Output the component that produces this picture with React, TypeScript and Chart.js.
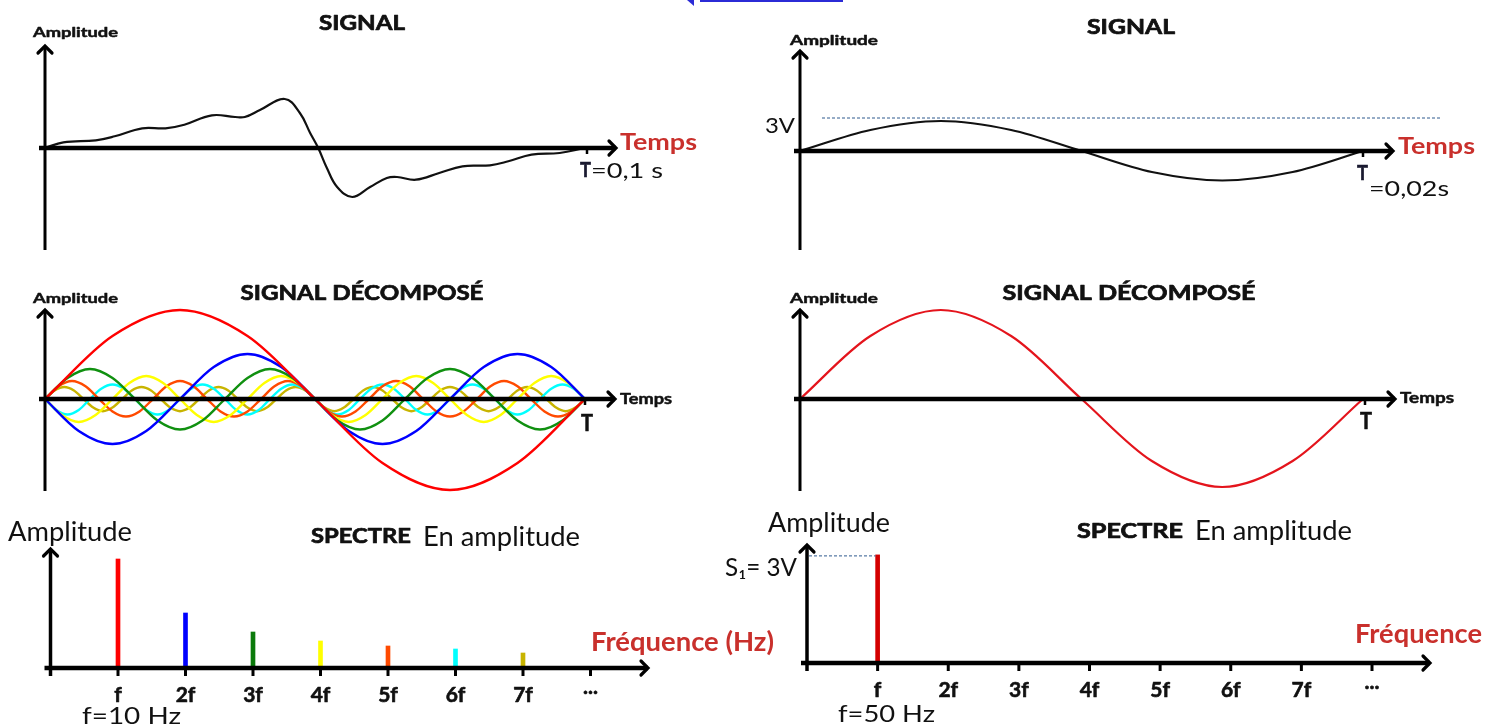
import React, { useEffect, useRef } from "react";
import { Chart, registerables } from "chart.js";

Chart.register(...registerables);

const W = 1496;
const H = 726;

// ---------- DATA ----------
// Left signal (T = 0,1 s): time in ms, amplitude (arbitrary units)
const sigLeftTime = [0, 3.4, 9.4, 12.9, 18.0, 22.3, 25.8, 30.9, 35.2, 37.0, 39.8, 44.4, 47.2, 49.1, 50.6, 52.2, 54.1, 56.9, 60.2, 63.3, 65.2, 68.7, 73.0, 77.3, 82.4, 85.8, 90.1, 95.3, 100];
const sigLeftAmp = [0, 0.57, 0.77, 1.17, 1.97, 1.97, 2.33, 3.27, 3.1, 3.1, 3.8, 4.9, 3.5, 1.5, 0, -2.0, -3.9, -4.9, -3.9, -3.0, -2.9, -3.17, -2.5, -1.83, -1.73, -1.33, -0.67, -0.5, 0];

// Right signal (T = 0,02 s): time in ms, amplitude in V (read every T/8)
const sigRightTime = [0, 2.5, 5, 7.5, 10, 12.5, 15, 17.5, 20];
const sigRightAmp = [0, 2.1, 3, 2.1, 0, -2.1, -2.95, -2.1, 0];

// Decomposed harmonics (left), values read every 1/8 of each harmonic's period over one T
const harmRed = [0, 6.3, 8.9, 6.3, 0, -6.4, -9.1, -6.4, 0];
const harmBlue = [0, -3.2, -4.5, -3.2, 0, 3.2, 4.5, 3.2, 0, -3.2, -4.5, -3.2, 0, 3.2, 4.5, 3.2, 0];
const harmGreen = [
  0, 2.1, 3.0, 2.1, 0, -2.15, -3.05, -2.15,
  0, 2.1, 3.0, 2.1, 0, -2.15, -3.05, -2.15,
  0, 2.1, 3.0, 2.1, 0, -2.15, -3.05, -2.15, 0,
];
const harmYellow = [
  0, -1.6, -2.3, -1.6, 0, 1.6, 2.3, 1.6,
  0, -1.6, -2.3, -1.6, 0, 1.6, 2.3, 1.6,
  0, -1.6, -2.3, -1.6, 0, 1.6, 2.3, 1.6,
  0, -1.6, -2.3, -1.6, 0, 1.6, 2.3, 1.6, 0,
];
const harmOrange = [
  0, 1.27, 1.8, 1.27, 0, -1.24, -1.75, -1.24,
  0, 1.27, 1.8, 1.27, 0, -1.24, -1.75, -1.24,
  0, 1.27, 1.8, 1.27, 0, -1.24, -1.75, -1.24,
  0, 1.27, 1.8, 1.27, 0, -1.24, -1.75, -1.24,
  0, 1.27, 1.8, 1.27, 0, -1.24, -1.75, -1.24, 0,
];
const harmCyan = [
  0, -1.1, -1.55, -1.1, 0, 1.03, 1.45, 1.03,
  0, -1.1, -1.55, -1.1, 0, 1.03, 1.45, 1.03,
  0, -1.1, -1.55, -1.1, 0, 1.03, 1.45, 1.03,
  0, -1.1, -1.55, -1.1, 0, 1.03, 1.45, 1.03,
  0, -1.1, -1.55, -1.1, 0, 1.03, 1.45, 1.03,
  0, -1.1, -1.55, -1.1, 0, 1.03, 1.45, 1.03, 0,
];
const harmOlive = [
  0, 0.85, 1.2, 0.85, 0, -0.86, -1.22, -0.86,
  0, 0.85, 1.2, 0.85, 0, -0.86, -1.22, -0.86,
  0, 0.85, 1.2, 0.85, 0, -0.86, -1.22, -0.86,
  0, 0.85, 1.2, 0.85, 0, -0.86, -1.22, -0.86,
  0, 0.85, 1.2, 0.85, 0, -0.86, -1.22, -0.86,
  0, 0.85, 1.2, 0.85, 0, -0.86, -1.22, -0.86,
  0, 0.85, 1.2, 0.85, 0, -0.86, -1.22, -0.86, 0,
];
const harmColors = ["#ff0000", "#0000ff", "#109010", "#ffff00", "#ff4a00", "#00ffff", "#c8b400"];

// Decomposed (right): fundamental only, read every T/8
const harmRightRed = [0, 6.3, 8.9, 6.3, 0, -6.2, -8.8, -6.2, 0];

// Spectra
const specTickLabels = ["f", "2f", "3f", "4f", "5f", "6f", "7f", "..."];
const specLeftHarm = [1, 2, 3, 4, 5, 6, 7];
const specLeftAmp = [10.9, 5.5, 3.6, 2.7, 2.2, 1.9, 1.5];
const specLeftColors = ["#ff0000", "#0000ff", "#0b7a0b", "#ffff00", "#ff4a00", "#00ffff", "#c8b400"];
const specRightHarm = [1];
const specRightAmp = [3]; // S1 = 3 V
const specRightColors = ["#d40000"];

// ---------- helpers ----------
const HEAD = "bold";
const F = "Lato";
const RED = "#c9302c";

function txt(ctx: CanvasRenderingContext2D, s: string, x: number, y: number, font: string, color: string, w?: number, align: "left" | "center" = "left", thick = 0) {
  ctx.save();
  ctx.font = font;
  ctx.fillStyle = color;
  ctx.textBaseline = "alphabetic";
  ctx.textAlign = "left";
  const m = ctx.measureText(s).width;
  const sx = w ? w / m : 1;
  ctx.translate(x, y);
  ctx.scale(sx, 1);
  const x0 = align === "center" ? -m / 2 : 0;
  ctx.fillText(s, x0, 0);
  if (thick > 0) {
    ctx.strokeStyle = color;
    ctx.lineWidth = thick;
    ctx.lineJoin = "round";
    ctx.strokeText(s, x0, 0);
  }
  ctx.restore();
}

function line(ctx: CanvasRenderingContext2D, x1: number, y1: number, x2: number, y2: number, lw: number, color = "#000", dash: number[] = []) {
  ctx.save();
  ctx.beginPath();
  ctx.setLineDash(dash);
  ctx.moveTo(x1, y1);
  ctx.lineTo(x2, y2);
  ctx.lineWidth = lw;
  ctx.strokeStyle = color;
  ctx.lineCap = "butt";
  ctx.stroke();
  ctx.restore();
}

function arrow(ctx: CanvasRenderingContext2D, x: number, y: number, dir: "right" | "up", size = 7, lw = 3.2) {
  ctx.save();
  ctx.beginPath();
  if (dir === "right") {
    ctx.moveTo(x - size, y - size);
    ctx.lineTo(x, y);
    ctx.lineTo(x - size, y + size);
  } else {
    ctx.moveTo(x - size, y + size);
    ctx.lineTo(x, y);
    ctx.lineTo(x + size, y + size);
  }
  ctx.lineWidth = lw;
  ctx.strokeStyle = "#000";
  ctx.lineCap = "round";
  ctx.lineJoin = "miter";
  ctx.stroke();
  ctx.restore();
}

type Decor = (chart: any, ctx: CanvasRenderingContext2D) => void;

function baseOptions(pad: { left: number; right: number; top: number; bottom: number }, xmin: number, xmax: number, ymin: number, ymax: number, decor: Decor) {
  return {
    options: {
      responsive: false,
      animation: false,
      events: [],
      layout: { padding: { left: pad.left, right: W - pad.right, top: pad.top, bottom: H - pad.bottom } },
      plugins: { legend: { display: false }, tooltip: { enabled: false }, title: { display: false } },
      scales: {
        x: { type: "linear", display: false, min: xmin, max: xmax, offset: false, grid: { offset: false } },
        y: { type: "linear", display: false, min: ymin, max: ymax },
      },
    },
    plugins: [
      {
        id: "decor",
        afterDatasetsDraw(chart: any) {
          decor(chart, chart.ctx);
        },
      },
    ],
  };
}

function lineDs(xs: number[], ys: number[], color: string, width: number, smooth: "monotone" | number) {
  return {
    type: "line",
    data: ys.map((y, i) => ({ x: xs[i], y })),
    borderColor: color,
    borderWidth: width,
    pointRadius: 0,
    tension: smooth === "monotone" ? 0.4 : smooth,
    cubicInterpolationMode: smooth === "monotone" ? "monotone" : "default",
    fill: false,
    clip: false,
  };
}

function evenTimes(n: number, T: number) {
  return Array.from({ length: n }, (_, i) => (i * T) / (n - 1));
}

// ---------- chart configs ----------
function signalLeft() {
  const decor: Decor = (c, ctx) => {
    const x = c.scales.x, y = c.scales.y;
    const x0 = x.getPixelForValue(0), y0 = y.getPixelForValue(0), xT = x.getPixelForValue(100);
    line(ctx, x0, c.chartArea.top + 1, x0, c.chartArea.bottom, 3);
    arrow(ctx, x0, c.chartArea.top + 1, "up");
    line(ctx, x0 - 6, y0, 616, y0, 4.5);
    arrow(ctx, 616, y0, "right");
    line(ctx, xT + 2, y0, xT + 2, y0 + 6, 2.5);
    txt(ctx, "SIGNAL", 362, 30, `${HEAD} 20px ${F}`, "#111", 86, "center", 0.7);
    txt(ctx, "Amplitude", 33, 37, `${HEAD} 14px ${F}`, "#111", 85, "left", 0.5);
    txt(ctx, "Temps", 620, 150, `bold 23px ${F}`, RED, 77);
    txt(ctx, "T", 580, 177, `bold 21px ${F}`, "#1a1a30", 11, "left", 0.6);
    txt(ctx, "=0,1 s", 591, 178, `21px ${F}`, "#111", 72);
    // small blue mark at the top of the picture
    ctx.save();
    ctx.fillStyle = "#2b2bd6";
    ctx.fillRect(700, 0, 143, 2);
    ctx.beginPath();
    ctx.moveTo(687, 0);
    ctx.lineTo(694, 0);
    ctx.lineTo(694, 6);
    ctx.closePath();
    ctx.fill();
    ctx.restore();
  };
  const b = baseOptions({ left: 45, right: 585, top: 45, bottom: 250 }, 0, 100, -10.2, 10.3, decor);
  return {
    type: "line",
    data: { datasets: [lineDs(sigLeftTime, sigLeftAmp, "#111", 2.2, 0.4)] },
    ...b,
  };
}

function signalRight() {
  const decor: Decor = (c, ctx) => {
    const x = c.scales.x, y = c.scales.y;
    const x0 = x.getPixelForValue(0), y0 = y.getPixelForValue(0), xT = x.getPixelForValue(20);
    const y3 = y.getPixelForValue(Math.max(...sigRightAmp));
    line(ctx, x0 + 22, y3 - 3, 1442, y3 - 3, 1, "#2e5a8e", [3, 2]);
    line(ctx, x0, c.chartArea.top + 1, x0, c.chartArea.bottom, 3);
    arrow(ctx, x0, c.chartArea.top + 1, "up");
    line(ctx, x0 - 6, y0, 1393, y0, 4.5);
    arrow(ctx, 1393, y0, "right");
    line(ctx, xT, y0, xT, y0 + 6, 2.5);
    txt(ctx, "SIGNAL", 1131, 34, `${HEAD} 20px ${F}`, "#111", 88, "center", 0.7);
    txt(ctx, "Amplitude", 790, 45, `${HEAD} 14px ${F}`, "#111", 88, "left", 0.5);
    txt(ctx, "3V", 765, 133, `22px ${F}`, "#111", 30);
    txt(ctx, "Temps", 1398, 154, `bold 23px ${F}`, RED, 77);
    txt(ctx, "T", 1357, 180, `bold 21px ${F}`, "#1a1a30", 11, "left", 0.6);
    txt(ctx, "=0,02s", 1369, 196, `21px ${F}`, "#111", 80);
  };
  const b = baseOptions({ left: 800, right: 1363, top: 50, bottom: 250 }, 0, 20, -9.9, 10.1, decor);
  return {
    type: "line",
    data: { datasets: [lineDs(sigRightTime, sigRightAmp, "#111", 2.2, "monotone")] },
    ...b,
  };
}

function decompLeft() {
  const decor: Decor = (c, ctx) => {
    const x = c.scales.x, y = c.scales.y;
    const x0 = x.getPixelForValue(0), y0 = y.getPixelForValue(0), xT = x.getPixelForValue(100);
    line(ctx, x0, c.chartArea.top + 3, x0, c.chartArea.bottom, 3);
    arrow(ctx, x0, c.chartArea.top + 3, "up");
    line(ctx, x0 - 6, y0, 615, y0, 4.5);
    arrow(ctx, 615, y0, "right");
    line(ctx, xT, y0, xT, y0 + 6, 2.5);
    txt(ctx, "SIGNAL DÉCOMPOSÉ", 362, 300, `${HEAD} 20px ${F}`, "#111", 243, "center", 0.7);
    txt(ctx, "Amplitude", 33, 303, `${HEAD} 14px ${F}`, "#111", 85, "left", 0.5);
    txt(ctx, "Temps", 620, 404, `${HEAD} 15px ${F}`, "#111", 52, "left", 0.5);
    txt(ctx, "T", 587, 431, `${HEAD} 22px ${F}`, "#111", 12, "center", 0.6);
  };
  const b = baseOptions({ left: 45, right: 585, top: 307, bottom: 491 }, 0, 100, -9.2, 9.2, decor);
  const harms = [harmRed, harmBlue, harmGreen, harmYellow, harmOrange, harmCyan, harmOlive];
  return {
    type: "line",
    data: {
      datasets: harms.map((h, i) => lineDs(evenTimes(h.length, 100), h, harmColors[i], 2.4, "monotone")),
    },
    ...b,
  };
}

function decompRight() {
  const decor: Decor = (c, ctx) => {
    const x = c.scales.x, y = c.scales.y;
    const x0 = x.getPixelForValue(0), y0 = y.getPixelForValue(0), xT = x.getPixelForValue(20);
    line(ctx, x0, c.chartArea.top + 3, x0, c.chartArea.bottom, 3);
    arrow(ctx, x0, c.chartArea.top + 3, "up");
    line(ctx, x0 - 6, y0, 1395, y0, 4.5);
    arrow(ctx, 1395, y0, "right");
    line(ctx, xT + 2, y0, xT + 2, y0 + 6, 2.5);
    txt(ctx, "SIGNAL DÉCOMPOSÉ", 1129, 300, `${HEAD} 20px ${F}`, "#111", 253, "center", 0.7);
    txt(ctx, "Amplitude", 790, 303, `${HEAD} 14px ${F}`, "#111", 88, "left", 0.5);
    txt(ctx, "Temps", 1400, 403, `${HEAD} 15px ${F}`, "#111", 54, "left", 0.5);
    txt(ctx, "T", 1366, 429, `${HEAD} 22px ${F}`, "#111", 12, "center", 0.6);
  };
  const b = baseOptions({ left: 800, right: 1363, top: 307, bottom: 491 }, 0, 20, -9.2, 9.2, decor);
  return {
    type: "line",
    data: { datasets: [lineDs(evenTimes(harmRightRed.length, 20), harmRightRed, "#e4141c", 2.2, "monotone")] },
    ...b,
  };
}

function spectrum(side: "left" | "right") {
  const isL = side === "left";
  const harm = isL ? specLeftHarm : specRightHarm;
  const amp = isL ? specLeftAmp : specRightAmp;
  const cols = isL ? specLeftColors : specRightColors;
  const decor: Decor = (c, ctx) => {
    const x = c.scales.x, y = c.scales.y;
    const x0 = x.getPixelForValue(0), y0 = y.getPixelForValue(0);
    const tip = isL ? 648 : 1430;
    if (!isL) {
      const yb = y.getPixelForValue(amp[0]);
      line(ctx, x0 + 2, yb + 1, x.getPixelForValue(harm[0]) - 2, yb + 1, 1, "#2e5a8e", [3, 2]);
    }
    line(ctx, x0, c.chartArea.top + 2, x0, y0 + 8, 3.5);
    arrow(ctx, x0, c.chartArea.top + 2, "up");
    line(ctx, x0 - 6, y0, tip, y0, 4.5);
    arrow(ctx, tip, y0, "right");
    specTickLabels.forEach((lab, i) => {
      const px = x.getPixelForValue(i + 1);
      line(ctx, px, y0, px, y0 + 8, 3);
      const by = (isL ? 702 : 697) - (lab === "..." ? 8 : 0);
      txt(ctx, lab, px, by, `${HEAD} 21px ${F}`, "#111", undefined, "center", 0.6);
    });
    if (isL) {
      txt(ctx, "Amplitude", 8, 541, `26px ${F}`, "#111", 124);
      txt(ctx, "SPECTRE", 311, 543, `${HEAD} 20px ${F}`, "#111", 100, "left", 0.7);
      txt(ctx, "En amplitude", 423, 546, `26px ${F}`, "#111", 157);
      txt(ctx, "Fréquence (Hz)", 591, 651, `bold 26px ${F}`, RED, 183);
      txt(ctx, "f=10 Hz", 82, 724, `24px ${F}`, "#111", 99);
    } else {
      txt(ctx, "Amplitude", 768, 532, `26px ${F}`, "#111", 122);
      txt(ctx, "S₁= 3V", 725, 576, `25px ${F}`, "#111", 72);
      txt(ctx, "SPECTRE", 1077, 538, `${HEAD} 20px ${F}`, "#111", 106, "left", 0.7);
      txt(ctx, "En amplitude", 1195, 540, `26px ${F}`, "#111", 157);
      txt(ctx, "Fréquence", 1355, 643, `bold 26px ${F}`, RED, 127);
      txt(ctx, "f=50 Hz", 838, 722, `24px ${F}`, "#111", 97);
    }
  };
  const b = isL
    ? baseOptions({ left: 50.5, right: 590.5, top: 547, bottom: 668 }, 0, 8, 0, 12.1, decor)
    : baseOptions({ left: 807, right: 1372, top: 543, bottom: 663 }, 0, 8, 0, 3.33, decor);
  return {
    type: "bar",
    data: {
      datasets: [
        {
          data: harm.map((h, i) => ({ x: h, y: amp[i] })),
          backgroundColor: cols,
          borderWidth: 0,
          barThickness: 4,
          clip: false,
        },
      ],
    },
    ...b,
  };
}

function ChartLayer({ make }: { make: () => any }) {
  const ref = useRef<HTMLCanvasElement | null>(null);
  useEffect(() => {
    if (!ref.current) return;
    const chart = new Chart(ref.current, make());
    return () => chart.destroy();
  }, [make]);
  return (
    <canvas
      ref={ref}
      width={W}
      height={H}
      style={{ position: "absolute", left: 0, top: 0, width: W, height: H }}
    />
  );
}

const makers = [signalLeft, signalRight, decompLeft, decompRight, () => spectrum("left"), () => spectrum("right")];

export default function App() {
  return (
    <div style={{ position: "absolute", left: 0, top: 0, width: W, height: H, background: "#fff", overflow: "hidden" }}>
      {makers.map((m, i) => (
        <ChartLayer key={i} make={m} />
      ))}
    </div>
  );
}
